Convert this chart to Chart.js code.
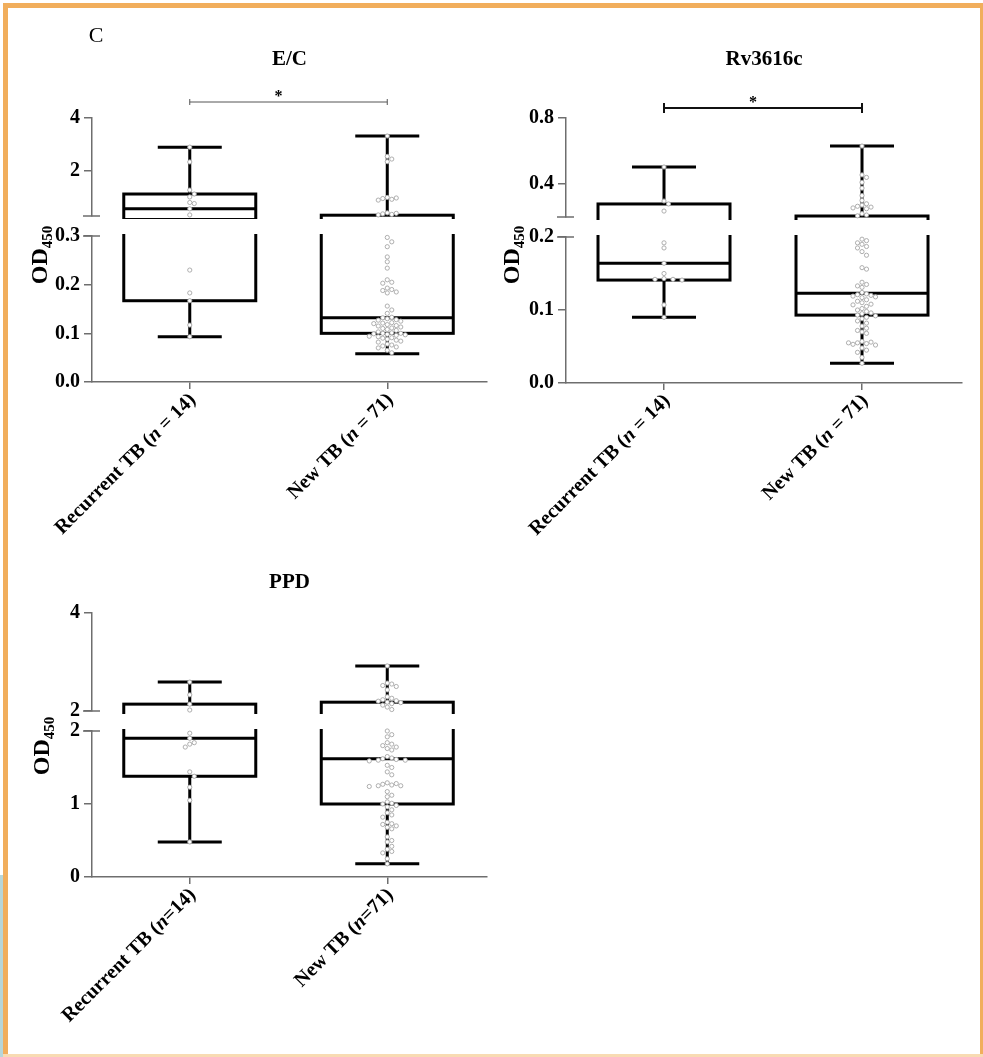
<!DOCTYPE html>
<html>
<head>
<meta charset="utf-8">
<title>OD450 box plots</title>
<script src="https://cdn.jsdelivr.net/npm/chart.js@4.4.1/dist/chart.umd.min.js"></script>
<style>
  html, body { margin: 0; padding: 0; background: #fff; }
  body { position: relative; width: 983px; height: 1057px; overflow: hidden; }
  .edge { position: absolute; }
  canvas { position: absolute; }
</style>
</head>
<body>
<div class="edge" style="left:0;top:875px;width:3px;height:182px;background:#b7d6d9"></div>
<div class="edge" style="left:3px;top:3px;width:979px;height:5px;background:#f1ae5c"></div>
<div class="edge" style="left:3px;top:3px;width:5px;height:1054px;background:#f1ae5c"></div>
<div class="edge" style="left:980px;top:3px;width:3px;height:1054px;background:#f1ae5c"></div>
<div class="edge" style="left:3px;top:1054px;width:980px;height:3px;background:#f8dbb3"></div>

<canvas id="ecChart" width="490" height="560" style="left:0;top:0"></canvas>
<canvas id="rvChart" width="493" height="560" style="left:490px;top:0"></canvas>
<canvas id="ppdChart" width="490" height="497" style="left:0;top:560px"></canvas>

<script>
const serif = '"Liberation Serif", "Times New Roman", serif';
const axisGray = "#6e6e6e";
Chart.defaults.font.family = serif;

// x categories
const ecLabels = ["Recurrent TB (n = 14)", "New TB (n = 71)"];
const ppdLabels = ["Recurrent TB (n=14)", "New TB (n=71)"];

// E/C: broken axis 0-0.3 / 0.3-4
const ecLowerRange = [0, 0.3];
const ecUpperRange = [0.3, 4];
const ecLowerTicks = [0, 0.1, 0.2, 0.3];
const ecUpperTicks = [2, 4];
const ecMin = [0.093, 0.058];
const ecQ1 = [0.167, 0.1];
const ecMedian = [0.57, 0.132];
const ecQ3 = [1.13, 0.33];
const ecMax = [2.9, 3.32];
const ecRecurrent = [2.9, 2.34, 1.28, 1.13, 1.02, 0.81, 0.77, 0.57, 0.34, 0.23, 0.183, 0.167, 0.117, 0.093];
const ecNew = [3.32, 2.55, 2.45, 2.35, 1.0, 0.98, 0.96, 0.93, 0.9, 0.42, 0.4, 0.38, 0.36, 0.34,
  0.297, 0.288, 0.278, 0.257, 0.247, 0.234, 0.21, 0.205, 0.203, 0.193, 0.19, 0.188, 0.185, 0.183,
  0.156, 0.148, 0.141, 0.133, 0.132, 0.13, 0.128, 0.127, 0.125, 0.122, 0.121, 0.12, 0.118, 0.116,
  0.115, 0.113, 0.111, 0.11, 0.108, 0.106, 0.103, 0.101, 0.1, 0.1, 0.099, 0.098, 0.097, 0.096,
  0.094, 0.093, 0.091, 0.09, 0.088, 0.086, 0.084, 0.082, 0.078, 0.076, 0.074, 0.072, 0.07, 0.065, 0.06];

// Rv3616c: broken axis 0-0.2 / 0.2-0.8
const rvLowerRange = [0, 0.2];
const rvUpperRange = [0.2, 0.8];
const rvLowerTicks = [0, 0.1, 0.2];
const rvUpperTicks = [0.4, 0.8];
const rvMin = [0.09, 0.027];
const rvQ1 = [0.141, 0.093];
const rvMedian = [0.164, 0.123];
const rvQ3 = [0.279, 0.206];
const rvMax = [0.503, 0.63];
const rvRecurrent = [0.503, 0.297, 0.279, 0.236, 0.192, 0.185, 0.164, 0.15, 0.143, 0.142, 0.142, 0.141, 0.107, 0.09];
const rvNew = [0.63, 0.455, 0.44, 0.41, 0.375, 0.33, 0.3, 0.28, 0.272, 0.265, 0.26, 0.255, 0.25, 0.22, 0.212, 0.207,
  0.197, 0.195, 0.192, 0.19, 0.187, 0.185, 0.18, 0.175, 0.158, 0.156, 0.138, 0.135, 0.133, 0.131,
  0.124, 0.122, 0.121, 0.12, 0.119, 0.118, 0.117, 0.114, 0.112, 0.11, 0.108, 0.107, 0.105,
  0.102, 0.1, 0.098, 0.096, 0.095, 0.093, 0.092, 0.09, 0.088, 0.085, 0.082, 0.078, 0.075, 0.072,
  0.07, 0.068, 0.057, 0.056, 0.055, 0.055, 0.054, 0.053, 0.052, 0.048, 0.045, 0.042, 0.035, 0.027];

// PPD: broken axis 0-2 / 2-4
const ppdLowerRange = [0, 2];
const ppdUpperRange = [2, 4];
const ppdLowerTicks = [0, 1, 2];
const ppdUpperTicks = [2, 4];
const ppdMin = [0.48, 0.18];
const ppdQ1 = [1.38, 1.0];
const ppdMedian = [1.9, 1.62];
const ppdQ3 = [2.14, 2.18];
const ppdMax = [2.59, 2.92];
const ppdRecurrent = [2.59, 2.33, 2.14, 2.02, 1.97, 1.9, 1.84, 1.82, 1.78, 1.44, 1.38, 1.23, 1.05, 0.48];
const ppdNew = [2.92, 2.57, 2.55, 2.52, 2.5, 2.43, 2.29, 2.26, 2.23, 2.21, 2.2, 2.18, 2.17, 2.15, 2.12, 2.08, 2.03,
  2.0, 1.95, 1.92, 1.84, 1.82, 1.8, 1.78, 1.76, 1.74, 1.65, 1.63, 1.62, 1.61, 1.6, 1.6, 1.59,
  1.53, 1.5, 1.44, 1.4, 1.29, 1.28, 1.27, 1.26, 1.25, 1.25, 1.24, 1.17, 1.12, 1.1,
  1.03, 1.01, 1.0, 0.98, 0.96, 0.92, 0.88, 0.85, 0.82, 0.75, 0.73, 0.72, 0.7, 0.68, 0.66,
  0.55, 0.5, 0.48, 0.42, 0.38, 0.35, 0.33, 0.25, 0.18];

const panels = [
  {
    canvas: "ecChart", title: "E/C", letter: "C", labels: ecLabels,
    lowerRange: ecLowerRange, upperRange: ecUpperRange, lowerTicks: ecLowerTicks, upperTicks: ecUpperTicks,
    lowerDigits: 1, upperDigits: 0,
    min: ecMin, q1: ecQ1, median: ecMedian, q3: ecQ3, max: ecMax, points: [ecRecurrent, ecNew],
    padding: { top: 118, left: 52, right: 2, bottom: 158 }, weights: [98, 20, 146],
    titleY: 60, yTitle: { x: 47, y: 255 },
    sig: { y: 102, color: "#555", width: 1, tick: 3 },
  },
  {
    canvas: "rvChart", title: "Rv3616c", labels: ecLabels,
    lowerRange: rvLowerRange, upperRange: rvUpperRange, lowerTicks: rvLowerTicks, upperTicks: rvUpperTicks,
    lowerDigits: 1, upperDigits: 1,
    min: rvMin, q1: rvQ1, median: rvMedian, q3: rvQ3, max: rvMax, points: [rvRecurrent, rvNew],
    padding: { top: 118, left: 36, right: 21, bottom: 157 }, weights: [99, 20, 146],
    titleY: 60, yTitle: { x: 29, y: 255 },
    sig: { y: 108, color: "#111", width: 2, tick: 5 },
  },
  {
    canvas: "ppdChart", title: "PPD", labels: ppdLabels,
    lowerRange: ppdLowerRange, upperRange: ppdUpperRange, lowerTicks: ppdLowerTicks, upperTicks: ppdUpperTicks,
    lowerDigits: 0, upperDigits: 0,
    min: ppdMin, q1: ppdQ1, median: ppdMedian, q3: ppdQ3, max: ppdMax, points: [ppdRecurrent, ppdNew],
    padding: { top: 53, left: 52, right: 2, bottom: 160 }, weights: [98, 20, 146],
    titleY: 23, yTitle: { x: 49, y: 186 },
  },
];

function line(ctx, x1, y1, x2, y2) {
  ctx.moveTo(x1, y1);
  ctx.lineTo(x2, y2);
}

// box, whiskers, titles and labels drawn with the chart's scales
function decorPlugin(p) {
  const boxHalf = 66, capHalf = 32;
  return {
    id: "decor",
    beforeDatasetsDraw(chart) {
      const { ctx, chartArea: area, scales } = chart;
      [0, 1].forEach((g) => {
        const cx = scales.x.getPixelForValue(g);
        ["yTop", "yBot"].forEach((id) => {
          const ys = scales[id];
          const y = (v) => ys.getPixelForValue(v);
          ctx.save();
          ctx.beginPath();
          ctx.rect(area.left, ys.top - 2, area.right - area.left, ys.bottom - ys.top + 5);
          ctx.clip();
          ctx.strokeStyle = "#000";
          ctx.lineWidth = 3;
          ctx.beginPath();
          line(ctx, cx, y(p.max[g]), cx, y(p.q3[g]));
          line(ctx, cx, y(p.q1[g]), cx, y(p.min[g]));
          line(ctx, cx - capHalf, y(p.max[g]), cx + capHalf, y(p.max[g]));
          line(ctx, cx - capHalf, y(p.min[g]), cx + capHalf, y(p.min[g]));
          line(ctx, cx - boxHalf, y(p.median[g]), cx + boxHalf, y(p.median[g]));
          ctx.stroke();
          ctx.strokeRect(cx - boxHalf, y(p.q3[g]), boxHalf * 2, y(p.q1[g]) - y(p.q3[g]));
          ctx.restore();
        });
      });
    },
    afterDraw(chart) {
      const { ctx, chartArea: area, scales } = chart;
      const ax = area.left;
      ctx.save();
      // axis break marks
      ctx.strokeStyle = axisGray;
      ctx.lineWidth = 1.5;
      ctx.beginPath();
      line(ctx, ax - 9, scales.yTop.bottom, ax + 8, scales.yTop.bottom);
      line(ctx, ax - 9, scales.yBot.top, ax + 8, scales.yBot.top);
      ctx.stroke();

      ctx.fillStyle = "#000";
      // panel title
      ctx.font = "bold 21px " + serif;
      ctx.textAlign = "center";
      ctx.textBaseline = "middle";
      ctx.fillText(p.title, (area.left + area.right) / 2, p.titleY);
      if (p.letter) {
        ctx.font = "22px " + serif;
        ctx.fillText(p.letter, 96, 36);
      }

      // significance bracket
      if (p.sig) {
        const x1 = scales.x.getPixelForValue(0), x2 = scales.x.getPixelForValue(1);
        ctx.strokeStyle = p.sig.color;
        ctx.lineWidth = p.sig.width;
        ctx.beginPath();
        line(ctx, x1, p.sig.y, x2, p.sig.y);
        line(ctx, x1, p.sig.y - p.sig.tick, x1, p.sig.y + p.sig.tick);
        line(ctx, x2, p.sig.y - p.sig.tick, x2, p.sig.y + p.sig.tick);
        ctx.stroke();
        ctx.font = "bold 16px " + serif;
        ctx.textBaseline = "alphabetic";
        ctx.fillText("*", (x1 + x2) / 2 - 10, p.sig.y - 1);
      }

      // y title OD450
      ctx.translate(p.yTitle.x, p.yTitle.y);
      ctx.rotate(-Math.PI / 2);
      ctx.textAlign = "left";
      ctx.textBaseline = "alphabetic";
      ctx.font = "bold 24px " + serif;
      const w1 = ctx.measureText("OD").width;
      ctx.font = "bold 15px " + serif;
      const w2 = ctx.measureText("450").width;
      const sx = -(w1 + w2) / 2;
      ctx.font = "bold 24px " + serif;
      ctx.fillText("OD", sx, 0);
      ctx.font = "bold 15px " + serif;
      ctx.fillText("450", sx + w1, 5);
      ctx.restore();

      // rotated category labels with italic n
      p.labels.forEach((label, g) => {
        const m = label.match(/^(.*\()n(.*)$/);
        const parts = [[m[1], "bold 20px "], ["n", "italic bold 20px "], [m[2], "bold 20px "]];
        ctx.save();
        ctx.translate(scales.x.getPixelForValue(g) + 3, area.bottom + 15);
        ctx.rotate(-Math.PI / 4);
        ctx.textAlign = "left";
        ctx.textBaseline = "middle";
        ctx.fillStyle = "#000";
        let total = 0;
        parts.forEach(([t, f]) => { ctx.font = f + serif; total += ctx.measureText(t).width; });
        let x = -total;
        parts.forEach(([t, f]) => {
          ctx.font = f + serif;
          ctx.fillText(t, x, 0);
          x += ctx.measureText(t).width;
        });
        ctx.restore();
      });
    },
  };
}

function yScale(range, ticks, digits, stackWeight, weight) {
  return {
    type: "linear", axis: "y", position: "left", stack: "od", stackWeight, weight,
    min: range[0], max: range[1],
    afterBuildTicks: (s) => { s.ticks = ticks.map((v) => ({ value: v })); },
    afterFit: (s) => { s.width = 40; },
    grid: { drawOnChartArea: false, color: axisGray, lineWidth: 1.5, tickLength: 8 },
    border: { display: true, color: axisGray, width: 1.5 },
    ticks: {
      color: "#000", padding: 4, autoSkip: false,
      font: { family: serif, size: 20, weight: "bold" },
      callback: (v) => Number(v).toFixed(digits),
    },
  };
}

// spread overlapping points sideways (beeswarm) in pixel space
function spreadPoints(chart) {
  const xs = chart.scales.x;
  const unit = xs.getPixelForValue(1) - xs.getPixelForValue(0);
  const step = 4.5, minGap = 4.6;
  [0, 1].forEach((g) => {
    const items = [];
    chart.data.datasets.forEach((ds) => ds.data.forEach((pt) => {
      if (pt.g === g) items.push({ pt, py: chart.scales[ds.yAxisID].getPixelForValue(pt.y) });
    }));
    items.sort((a, b) => a.py - b.py);
    const placed = [];
    items.forEach((it) => {
      for (let k = 0; k < 60; k++) {
        const off = (k % 2 ? 1 : -1) * Math.ceil(k / 2) * step;
        if (placed.every((q) => Math.hypot(q.px - off, q.py - it.py) >= minGap)) {
          placed.push({ px: off, py: it.py });
          it.pt.x = g + off / unit;
          break;
        }
      }
    });
  });
  chart.update("none");
}

function buildPanel(p) {
  const pointStyle = {
    pointRadius: 2.1, pointHoverRadius: 2.1, pointBorderWidth: 0.9,
    pointBorderColor: "#a6a6a6", pointBackgroundColor: "#fff", clip: 6,
  };
  const upper = { label: "upper", yAxisID: "yTop", xAxisID: "x", data: [], ...pointStyle };
  const lower = { label: "lower", yAxisID: "yBot", xAxisID: "x", data: [], ...pointStyle };
  p.points.forEach((vals, g) => vals.forEach((v) => {
    (v > p.lowerRange[1] ? upper : lower).data.push({ x: g, y: v, g });
  }));

  const chart = new Chart(document.getElementById(p.canvas), {
    type: "scatter",
    data: { datasets: [upper, lower] },
    options: {
      responsive: false,
      animation: false,
      events: [],
      layout: { padding: p.padding },
      plugins: { legend: { display: false }, tooltip: { enabled: false }, title: { display: false } },
      scales: {
        x: {
          type: "linear", position: "bottom", min: -0.495, max: 1.505,
          afterBuildTicks: (s) => { s.ticks = [{ value: 0 }, { value: 1 }]; },
          afterFit: (s) => { s.height = 20; },
          grid: { drawOnChartArea: false, color: axisGray, lineWidth: 1.5, tickLength: 7 },
          border: { display: true, color: axisGray, width: 1.5 },
          ticks: { display: false },
        },
        yTop: yScale(p.upperRange, p.upperTicks, p.upperDigits, p.weights[0], 3),
        yGap: { type: "linear", axis: "y", position: "left", stack: "od", stackWeight: p.weights[1], weight: 2, display: false, min: 0, max: 1 },
        yBot: yScale(p.lowerRange, p.lowerTicks, p.lowerDigits, p.weights[2], 1),
      },
    },
    plugins: [decorPlugin(p)],
  });
  spreadPoints(chart);
  return chart;
}

panels.forEach(buildPanel);
</script>
</body>
</html>
